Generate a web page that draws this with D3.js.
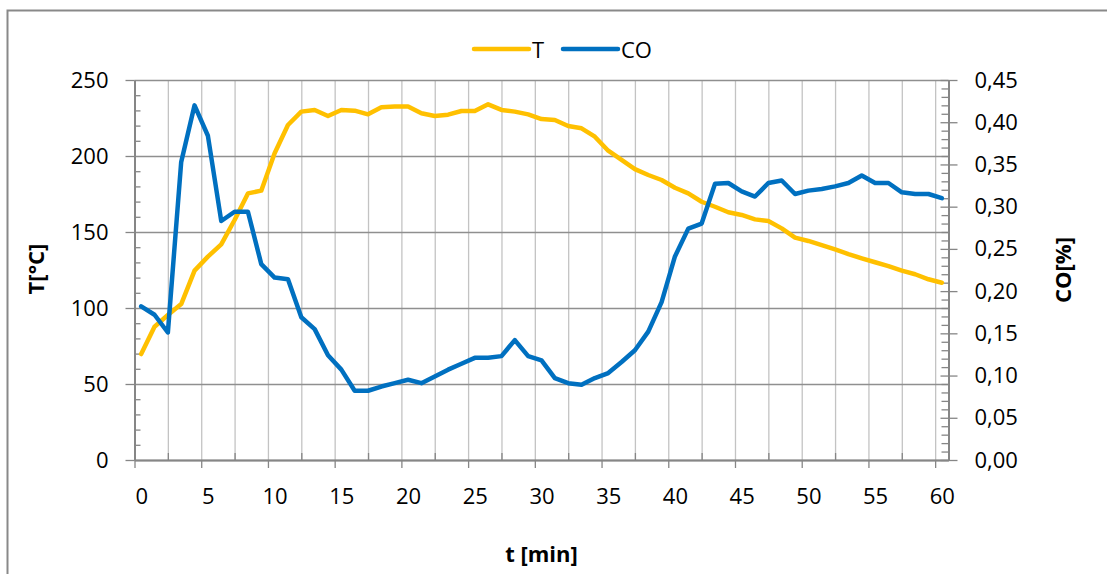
<!DOCTYPE html>
<html>
<head>
<meta charset="utf-8">
<script src="https://cdn.jsdelivr.net/npm/d3@7"></script>
<style>
  html, body { margin: 0; padding: 0; background: #fff; }
  svg text { font-family: "Open Sans", "Liberation Sans", sans-serif; fill: #000; }
</style>
</head>
<body>
<div id="chart"></div>
<script>
// time categories [min]
const times = [0, 1, 2, 3, 4, 5, 6, 7, 8, 9, 10, 11, 12, 13, 14, 15, 16, 17, 18, 19, 20,
  21, 22, 23, 24, 25, 26, 27, 28, 29, 30, 31, 32, 33, 34, 35, 36, 37, 38, 39, 40,
  41, 42, 43, 44, 45, 46, 47, 48, 49, 50, 51, 52, 53, 54, 55, 56, 57, 58, 59, 60];

// temperature T [°C]
const tempValues = [69.7, 87.7, 95.4, 102.6, 124.6, 133.8, 141.9, 157.9, 175.4, 177.2,
  201.8, 220.4, 229.2, 230.3, 226.3, 230.3, 229.8, 227.4, 232.0, 232.5,
  232.5, 228.1, 226.3, 227.2, 229.6, 229.6, 234.0, 230.3, 229.2, 227.4,
  224.3, 223.7, 219.7, 218.2, 212.7, 203.5, 197.4, 191.4, 187.5, 184.2,
  179.1, 175.4, 169.9, 166.6, 163.0, 161.2, 158.3, 157.2, 152.4, 146.3,
  144.1, 141.4, 138.6, 135.5, 132.7, 130.1, 127.6, 124.6, 122.2, 118.9,
  116.6];

// CO [%]
const coValues = [0.182, 0.172, 0.151, 0.353, 0.420, 0.384, 0.283, 0.294, 0.294, 0.232,
  0.216, 0.214, 0.169, 0.155, 0.124, 0.107, 0.082, 0.082, 0.087, 0.091,
  0.095, 0.091, 0.099, 0.107, 0.114, 0.121, 0.121, 0.123, 0.142, 0.123,
  0.118, 0.097, 0.091, 0.089, 0.097, 0.103, 0.116, 0.130, 0.152, 0.187,
  0.241, 0.274, 0.280, 0.327, 0.328, 0.318, 0.312, 0.328, 0.331, 0.315,
  0.319, 0.321, 0.324, 0.328, 0.337, 0.328, 0.328, 0.317, 0.315, 0.315,
  0.310];

// tick labels
const xTicks = [0, 5, 10, 15, 20, 25, 30, 35, 40, 45, 50, 55, 60];
const tTicks = [0, 50, 100, 150, 200, 250];
const coTicks = [0, 0.05, 0.10, 0.15, 0.20, 0.25, 0.30, 0.35, 0.40, 0.45];

const width = 1107, height = 574;
const plot = { left: 134.5, right: 948.5, top: 80, bottom: 460 };
const axisColor = '#868686';
const vGridColor = '#c3c3c3';
const hGridColor = '#8f8f8f';
const tColor = '#FFC000';
const coColor = '#0070C0';
const fontSize = '22px';

const svg = d3.select('#chart').append('svg')
  .attr('width', width).attr('height', height);

// chart border (continues past the picture on the right and bottom)
svg.append('rect')
  .attr('x', 7.5).attr('y', 10.5)
  .attr('width', 1120).attr('height', 600)
  .attr('fill', '#fff').attr('stroke', '#898989').attr('stroke-width', 2);

// category axis: each minute is one category, labels at the centre
const x = d3.scaleLinear().domain([-0.5, 60.5]).range([plot.left, plot.right]);
const yT = d3.scaleLinear().domain([0, 250]).range([plot.bottom, plot.top]);
const yCO = d3.scaleLinear().domain([0, 0.45]).range([plot.bottom, plot.top]);

const fmtCO = v => d3.format('.2f')(v).replace('.', ',');

// vertical gridlines every 2.5 categories
const vGridPos = d3.range(2, 60, 2.5);
svg.append('g')
  .attr('transform', `translate(0,${plot.bottom})`)
  .call(d3.axisBottom(x).tickValues(vGridPos).tickSize(-(plot.bottom - plot.top)).tickFormat(''))
  .call(g => g.select('.domain').remove())
  .call(g => g.selectAll('line').attr('stroke', vGridColor).attr('stroke-width', 1.3));

// horizontal gridlines at T major ticks
svg.append('g')
  .attr('transform', `translate(${plot.left},0)`)
  .call(d3.axisLeft(yT).tickValues(tTicks).tickSize(-(plot.right - plot.left)).tickFormat(''))
  .call(g => g.select('.domain').remove())
  .call(g => g.selectAll('line').attr('stroke', hGridColor).attr('stroke-width', 1.3));

// ---- left axis (T)
const leftG = svg.append('g').attr('transform', `translate(${plot.left},0)`);
leftG.call(d3.axisLeft(yT).tickValues(tTicks).tickSize(9).tickSizeOuter(0).tickPadding(17).tickFormat(d3.format('d')))
  .call(g => g.select('.domain').attr('stroke', axisColor).attr('stroke-width', 2))
  .call(g => g.selectAll('line').attr('stroke', axisColor).attr('stroke-width', 1.3))
  .call(g => g.selectAll('text').attr('font-size', fontSize).attr('font-family', null));
// minor ticks inside
svg.append('g').attr('transform', `translate(${plot.left},0)`)
  .call(d3.axisRight(yT).tickValues(d3.range(10, 250, 10).filter(v => v % 50 !== 0)).tickSize(6).tickFormat(''))
  .call(g => g.select('.domain').remove())
  .call(g => g.selectAll('line').attr('stroke', axisColor).attr('stroke-width', 1.3));

// ---- right axis (CO)
const rightG = svg.append('g').attr('transform', `translate(${plot.right},0)`);
rightG.call(d3.axisRight(yCO).tickValues(coTicks).tickSize(9).tickSizeOuter(0).tickPadding(17).tickFormat(fmtCO))
  .call(g => g.select('.domain').attr('stroke', axisColor).attr('stroke-width', 2))
  .call(g => g.selectAll('line').attr('stroke', axisColor).attr('stroke-width', 1.3).attr('x1', -8))
  .call(g => g.selectAll('text').attr('font-size', fontSize).attr('font-family', null));
svg.append('g').attr('transform', `translate(${plot.right},0)`)
  .call(d3.axisLeft(yCO).tickValues(d3.range(1, 45).filter(v => v % 5 !== 0).map(v => v / 100)).tickSize(7).tickFormat(''))
  .call(g => g.select('.domain').remove())
  .call(g => g.selectAll('line').attr('stroke', axisColor).attr('stroke-width', 1.3));

// ---- bottom axis (t)
// major ticks on category borders every 5 minutes, outside
svg.append('g').attr('transform', `translate(0,${plot.bottom})`)
  .call(d3.axisBottom(x).tickValues(d3.range(-0.5, 60, 5)).tickSize(8).tickSizeOuter(0).tickFormat(''))
  .call(g => g.select('.domain').attr('stroke', axisColor).attr('stroke-width', 2))
  .call(g => g.selectAll('line').attr('stroke', axisColor).attr('stroke-width', 1.3));
// minor ticks inside
svg.append('g').attr('transform', `translate(0,${plot.bottom})`)
  .call(d3.axisTop(x).tickValues(d3.range(2, 60, 5)).tickSize(7).tickFormat(''))
  .call(g => g.select('.domain').remove())
  .call(g => g.selectAll('line').attr('stroke', axisColor).attr('stroke-width', 1.3));
// labels at category centres
svg.append('g').attr('transform', `translate(0,${plot.bottom})`)
  .call(d3.axisBottom(x).tickValues(xTicks).tickSize(0).tickPadding(28).tickFormat(d3.format('d')))
  .call(g => g.select('.domain').remove())
  .call(g => g.selectAll('text').attr('font-size', fontSize).attr('font-family', null));

// ---- series
const lineT = d3.line().x((d, i) => x(times[i])).y(d => yT(d));
const lineCO = d3.line().x((d, i) => x(times[i])).y(d => yCO(d));

svg.append('path').datum(tempValues)
  .attr('fill', 'none').attr('stroke', tColor).attr('stroke-width', 4.5)
  .attr('stroke-linejoin', 'round').attr('stroke-linecap', 'round')
  .attr('d', lineT);

svg.append('path').datum(coValues)
  .attr('fill', 'none').attr('stroke', coColor).attr('stroke-width', 4.5)
  .attr('stroke-linejoin', 'round').attr('stroke-linecap', 'round')
  .attr('d', lineCO);

// ---- axis titles
svg.append('text')
  .attr('transform', 'translate(35,269) rotate(-90)')
  .attr('text-anchor', 'middle').attr('dominant-baseline', 'central')
  .attr('font-size', fontSize).attr('font-weight', 'bold')
  .text('T[°C]');

svg.append('text')
  .attr('transform', 'translate(1062,270) rotate(-90)')
  .attr('text-anchor', 'middle').attr('dominant-baseline', 'central')
  .attr('font-size', fontSize).attr('font-weight', 'bold')
  .text('CO[%]');

svg.append('text')
  .attr('x', 541.5).attr('y', 553)
  .attr('text-anchor', 'middle').attr('dominant-baseline', 'central')
  .attr('font-size', fontSize).attr('font-weight', 'bold')
  .text('t [min]');

// ---- legend
const legendItems = [
  { name: 'T', color: tColor, x: 474 },
  { name: 'CO', color: coColor, x: 563 }
];
const legend = svg.append('g').attr('class', 'legend');
const li = legend.selectAll('g').data(legendItems).enter().append('g')
  .attr('transform', d => `translate(${d.x},49)`);
li.append('line')
  .attr('x1', 0).attr('x2', 55).attr('y1', 0).attr('y2', 0)
  .attr('stroke', d => d.color).attr('stroke-width', 4.5).attr('stroke-linecap', 'round');
li.append('text')
  .attr('x', 58).attr('y', 0).attr('dominant-baseline', 'central')
  .attr('font-size', fontSize)
  .text(d => d.name);
</script>
</body>
</html>
